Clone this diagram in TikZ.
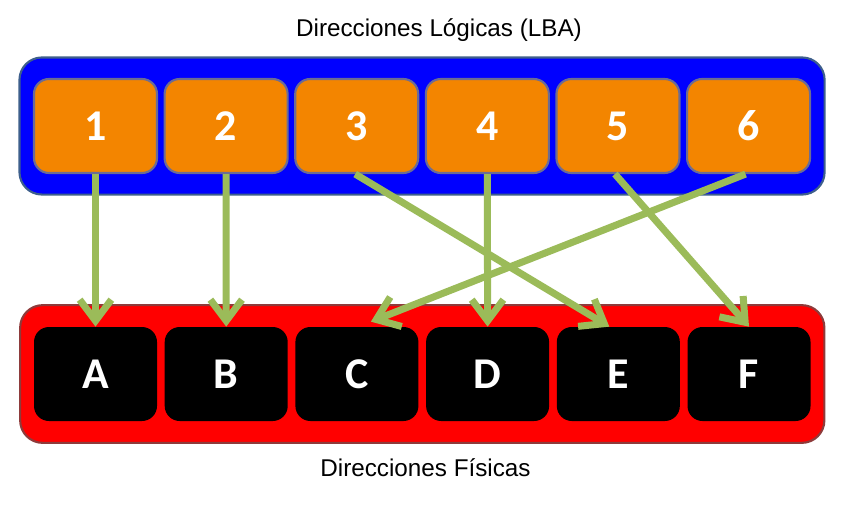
\documentclass[tikz,border=0pt]{standalone}
\usepackage{fontspec}
\setmainfont{Liberation Sans}
\newfontfamily\keyfont{Carlito}
\usetikzlibrary{arrows.meta, positioning, fit, backgrounds}

\definecolor{lbaorange}{HTML}{F38500}
\definecolor{lbablue}{HTML}{0000FF}
\definecolor{lbaedge}{HTML}{3E5F8C}
\definecolor{physred}{HTML}{FF0000}
\definecolor{physedge}{HTML}{8E3B3B}
\definecolor{mapgreen}{HTML}{9BBB59}

\begin{document}
\begin{tikzpicture}[
    node distance=0.11cm,
    font=\fontsize{13.8}{16}\selectfont,
    % Define styles
    lblock/.style={
        rectangle,
        rounded corners=0.3cm,
        draw=gray!85!blue,
        fill=lbaorange,
        text=white,
        minimum width=2.46cm,
        minimum height=1.88cm,
        line width=1.2pt,
        font=\keyfont\bfseries\fontsize{25}{30}\selectfont
    },
    pblock/.style={
        rectangle,
        rounded corners=0.3cm,
        fill=black,
        text=white,
        minimum width=2.46cm,
        minimum height=1.88cm,
        font=\keyfont\bfseries\fontsize{25}{30}\selectfont
    },
    lpanel/.style={
        rectangle,
        rounded corners=0.45cm,
        draw=lbaedge,
        fill=lbablue,
        line width=1.2pt,
        inner xsep=0.27cm,
        inner ysep=0.41cm
    },
    ppanel/.style={
        rectangle,
        rounded corners=0.45cm,
        draw=physedge,
        fill=physred,
        line width=1.2pt,
        inner xsep=0.27cm,
        inner ysep=0.43cm
    },
    map/.style={
        draw=mapgreen,
        line width=4pt,
        -{Straight Barb[length=12pt, width=18pt]}
    }
]
\useasboundingbox (0,0) rectangle (17.1,-10.16);

% Place nodes
% Top row: logical addresses
\node[lblock] (o1) at (1.91,-2.52) {1};
\node[lblock, right=of o1] (o2) {2};
\node[lblock, right=of o2] (o3) {3};
\node[lblock, right=of o3] (o4) {4};
\node[lblock, right=of o4] (o5) {5};
\node[lblock, right=of o5] (o6) {6};

% Bottom row: physical addresses
\node[pblock] (a) at (1.91,-7.48) {A};
\node[pblock, right=0.14cm of a] (b) {B};
\node[pblock, right=0.14cm of b] (c) {C};
\node[pblock, right=0.14cm of c] (d) {D};
\node[pblock, right=0.14cm of d] (e) {E};
\node[pblock, right=0.14cm of e] (f) {F};

% Panels behind the rows
\begin{scope}[on background layer]
\node[lpanel, fit=(o1)(o6)] (logical) {};
\node[ppanel, fit=(a)(f)] (physical) {};
\end{scope}

% Labels
\node (toplabel) at (8.78,-0.6) {Direcciones Lógicas (LBA)};
\node (botlabel) at (8.51,-9.36) {Direcciones Físicas};

% Draw edges
\draw[map] (o1.south) -- (a.north);
\draw[map] (o2.south) -- (b.north);
\draw[map] ([xshift=-0.03cm]o3.south) -- ([xshift=-0.18cm]e.north);
\draw[map] (o4.south) -- (d.north);
\draw[map] ([xshift=-0.06cm]o5.south) -- (f.north);
\draw[map] ([xshift=-0.06cm]o6.south) -- ([xshift=0.28cm, yshift=0.1cm]c.north);

\end{tikzpicture}
\end{document}
